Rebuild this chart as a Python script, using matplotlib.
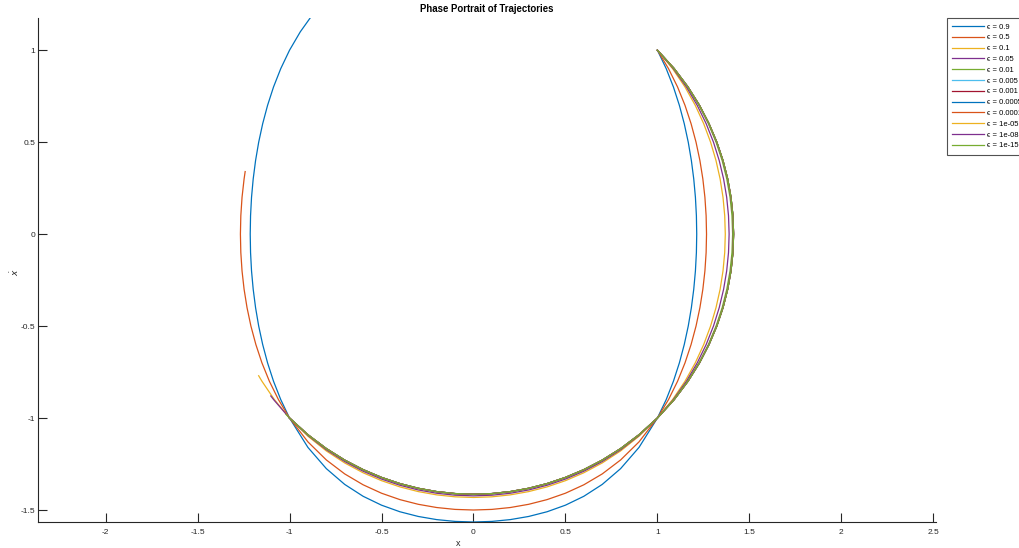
import matplotlib
matplotlib.use("Agg")
import matplotlib.pyplot as plt

plt.rcParams['font.family'] = ['Liberation Sans', 'DejaVu Sans']

# ---- data (phase-plane trajectories, x vs x-dot) ----
labels = ['ϵ = 0.9', 'ϵ = 0.5', 'ϵ = 0.1', 'ϵ = 0.05', 'ϵ = 0.01', 'ϵ = 0.005',
          'ϵ = 0.001', 'ϵ = 0.0005', 'ϵ = 0.0001', 'ϵ = 1e-05', 'ϵ = 1e-08', 'ϵ = 1e-15']

x_09 = [1.0, 1.0477, 1.0871, 1.1195, 1.1461, 1.1677, 1.1847, 1.1976, 1.2067, 1.2120,
        1.2138, 1.2120, 1.2067, 1.1976, 1.1847, 1.1677, 1.1461, 1.1195, 1.0871, 1.0477,
        1.0, 0.9, 0.8, 0.7, 0.6, 0.5, 0.4, 0.3, 0.2, 0.1, 0.0,
        -0.1, -0.2, -0.3, -0.4, -0.5, -0.6, -0.7, -0.8, -0.9, -1.0,
        -1.0477, -1.0871, -1.1195, -1.1461, -1.1677, -1.1847, -1.1976, -1.2067, -1.2120,
        -1.2138, -1.2120, -1.2067, -1.1976, -1.1847, -1.1677, -1.1461, -1.1195, -1.0871,
        -1.0477, -1.0, -0.9415, -0.888]
y_09 = [1.0, 0.9, 0.8, 0.7, 0.6, 0.5, 0.4, 0.3, 0.2, 0.1, 0.0,
        -0.1, -0.2, -0.3, -0.4, -0.5, -0.6, -0.7, -0.8, -0.9, -1.0,
        -1.1597, -1.2750, -1.3609, -1.4254, -1.4737, -1.5095, -1.5351, -1.5522, -1.5620,
        -1.5652, -1.5620, -1.5522, -1.5351, -1.5095, -1.4737, -1.4254, -1.3609, -1.2750,
        -1.1597,
        -1.0, -0.9, -0.8, -0.7, -0.6, -0.5, -0.4, -0.3, -0.2, -0.1, 0.0,
        0.1, 0.2, 0.3, 0.4, 0.5, 0.6, 0.7, 0.8, 0.9, 1.0, 1.1, 1.175]

x_05 = [1.0, 1.0602, 1.1096, 1.1501, 1.1832, 1.2100, 1.2311, 1.2471, 1.2583, 1.2649,
        1.2671, 1.2649, 1.2583, 1.2471, 1.2311, 1.2100, 1.1832, 1.1501, 1.1096, 1.0602,
        1.0, 0.9, 0.8, 0.7, 0.6, 0.5, 0.4, 0.3, 0.2, 0.1, 0.0,
        -0.1, -0.2, -0.3, -0.4, -0.5, -0.6, -0.7, -0.8, -0.9, -1.0,
        -1.0602, -1.1096, -1.1501, -1.1832, -1.2100, -1.2311, -1.2471, -1.2583, -1.2649,
        -1.2671, -1.2649, -1.2583, -1.2471, -1.2413]
y_05 = [1.0, 0.9, 0.8, 0.7, 0.6, 0.5, 0.4, 0.3, 0.2, 0.1, 0.0,
        -0.1, -0.2, -0.3, -0.4, -0.5, -0.6, -0.7, -0.8, -0.9, -1.0,
        -1.1296, -1.2278, -1.3038, -1.3629, -1.4087, -1.4435, -1.4690, -1.4865, -1.4967,
        -1.5, -1.4967, -1.4865, -1.4690, -1.4435, -1.4087, -1.3629, -1.3038, -1.2278,
        -1.1296,
        -1.0, -0.9, -0.8, -0.7, -0.6, -0.5, -0.4, -0.3, -0.2, -0.1, 0.0,
        0.1, 0.2, 0.3, 0.34]

x_01 = [1.0, 1.0823, 1.1500, 1.2060, 1.2519, 1.2891, 1.3186, 1.3410, 1.3567, 1.3660,
        1.3691, 1.3660, 1.3567, 1.3410, 1.3186, 1.2891, 1.2519, 1.2060, 1.1500, 1.0823,
        1.0, 0.9, 0.8, 0.7, 0.6, 0.5, 0.4, 0.3, 0.2, 0.1, 0.0,
        -0.1, -0.2, -0.3, -0.4, -0.5, -0.6, -0.7, -0.8, -0.9, -1.0,
        -1.0823, -1.1500, -1.1679]
y_01 = [1.0, 0.9, 0.8, 0.7, 0.6, 0.5, 0.4, 0.3, 0.2, 0.1, 0.0,
        -0.1, -0.2, -0.3, -0.4, -0.5, -0.6, -0.7, -0.8, -0.9, -1.0,
        -1.0987, -1.1788, -1.2442, -1.2975, -1.3405, -1.3743, -1.3999, -1.4177, -1.4283,
        -1.4318, -1.4283, -1.4177, -1.3999, -1.3743, -1.3405, -1.2975, -1.2442, -1.1788,
        -1.0987,
        -1.0, -0.9, -0.8, -0.77]

x_005 = [1.0, 1.0864, 1.1577, 1.2166, 1.2653, 1.3048, 1.3361, 1.3599, 1.3767, 1.3866,
         1.3899, 1.3866, 1.3767, 1.3599, 1.3361, 1.3048, 1.2653, 1.2166, 1.1577, 1.0864,
         1.0, 0.9, 0.8, 0.7, 0.6, 0.5, 0.4, 0.3, 0.2, 0.1, 0.0,
         -0.1, -0.2, -0.3, -0.4, -0.5, -0.6, -0.7, -0.8, -0.9, -1.0,
         -1.0864, -1.1019]
y_005 = [1.0, 0.9, 0.8, 0.7, 0.6, 0.5, 0.4, 0.3, 0.2, 0.1, 0.0,
         -0.1, -0.2, -0.3, -0.4, -0.5, -0.6, -0.7, -0.8, -0.9, -1.0,
         -1.0948, -1.1725, -1.2365, -1.2891, -1.3317, -1.3654, -1.3910, -1.4089, -1.4195,
         -1.4230, -1.4195, -1.4089, -1.3910, -1.3654, -1.3317, -1.2891, -1.2365, -1.1725,
         -1.0948,
         -1.0, -0.9, -0.88]

x_001 = [1.0, 1.0899, 1.1643, 1.2262, 1.2773, 1.3189, 1.3520, 1.3772, 1.3949, 1.4054,
         1.4089, 1.4054, 1.3949, 1.3772, 1.3520, 1.3189, 1.2773, 1.2262, 1.1643, 1.0899,
         1.0, 0.9, 0.8, 0.7, 0.6, 0.5, 0.4, 0.3, 0.2, 0.1, 0.0,
         -0.1, -0.2, -0.3, -0.4, -0.5, -0.6, -0.7, -0.8, -0.9, -1.0,
         -1.0194]
y_001 = [1.0, 0.9, 0.8, 0.7, 0.6, 0.5, 0.4, 0.3, 0.2, 0.1, 0.0,
         -0.1, -0.2, -0.3, -0.4, -0.5, -0.6, -0.7, -0.8, -0.9, -1.0,
         -1.0917, -1.1675, -1.2304, -1.2824, -1.3247, -1.3583, -1.3838, -1.4018, -1.4124,
         -1.4160, -1.4124, -1.4018, -1.3838, -1.3583, -1.3247, -1.2824, -1.2304, -1.1675,
         -1.0917,
         -1.0, -0.98]

# the curves for eps <= 0.005 lie on top of each other in the picture
x_small = [1.0, 1.0909, 1.1662, 1.2288, 1.2806, 1.3229, 1.3565, 1.3820, 1.4000, 1.4107,
           1.4142, 1.4107, 1.4000, 1.3820, 1.3565, 1.3229, 1.2806, 1.2288, 1.1662, 1.0909,
           1.0, 0.9, 0.8, 0.7, 0.6, 0.5, 0.4, 0.3, 0.2, 0.1, 0.0,
           -0.1, -0.2, -0.3, -0.4, -0.5, -0.6, -0.7, -0.8, -0.9, -1.0]
y_small = [1.0, 0.9, 0.8, 0.7, 0.6, 0.5, 0.4, 0.3, 0.2, 0.1, 0.0,
           -0.1, -0.2, -0.3, -0.4, -0.5, -0.6, -0.7, -0.8, -0.9, -1.0,
           -1.0909, -1.1662, -1.2288, -1.2806, -1.3229, -1.3565, -1.3820, -1.4000, -1.4107,
           -1.4142, -1.4107, -1.4000, -1.3820, -1.3565, -1.3229, -1.2806, -1.2288, -1.1662,
           -1.0909,
           -1.0]

series_x = [x_09, x_05, x_01, x_005, x_001] + [x_small] * 7
series_y = [y_09, y_05, y_01, y_005, y_001] + [y_small] * 7

x_ticks = [-2, -1.5, -1, -0.5, 0, 0.5, 1, 1.5, 2, 2.5]
x_ticklabels = ['-2', '-1.5', '-1', '-0.5', '0', '0.5', '1', '1.5', '2', '2.5']
y_ticks = [-1.5, -1, -0.5, 0, 0.5, 1]
y_ticklabels = ['-1.5', '-1', '-0.5', '0', '0.5', '1']

colors = ['#0072BD', '#D95319', '#EDB120', '#7E2F8E', '#77AC30', '#4DBEEE', '#A2142F',
          '#0072BD', '#D95319', '#EDB120', '#7E2F8E', '#77AC30']

# ---- figure ----
W, H = 1020, 548
fig = plt.figure(figsize=(W / 100, H / 100), dpi=100)
ax = fig.add_axes([38 / W, 1 - 522 / H, (936 - 38) / W, (522 - 18) / H])

for xs, ys, c, lab in zip(series_x, series_y, colors, labels):
    ax.plot(xs, ys, color=c, lw=0.9, label=lab)

ax.set_xlim(-2.3676, 2.5147)
ax.set_ylim(-1.5652, 1.175)
ax.set_xticks(x_ticks)
ax.set_xticklabels(x_ticklabels)
ax.set_yticks(y_ticks)
ax.set_yticklabels(y_ticklabels)

for s in ['top', 'right']:
    ax.spines[s].set_visible(False)
for s in ['left', 'bottom']:
    ax.spines[s].set_color('#262626')
    ax.spines[s].set_linewidth(0.8)
ax.tick_params(direction='in', length=6.5, width=0.8, color='#262626',
               labelsize=6, labelcolor='#262626')
ax.tick_params(axis='x', pad=5)
ax.tick_params(axis='y', pad=1.8)

ax.set_title('Phase Portrait of Trajectories', fontsize=6.9, fontweight='bold',
             color='black', pad=4)
ax.set_xlabel('x', fontsize=6.5, color='#262626')
ax.xaxis.set_label_coords(0.4677, -0.034)
ax.set_ylabel(r'$\dot{x}$', fontsize=6.5, color='#262626')
ax.yaxis.set_label_coords(-0.019, 0.496)

leg = ax.legend(loc='upper left', bbox_to_anchor=(947 / W, 1 - 18 / H),
                bbox_transform=fig.transFigure, fontsize=5.5, frameon=True,
                fancybox=False, edgecolor='#262626', borderaxespad=0,
                handlelength=4.2, handletextpad=0.4, labelspacing=0.45,
                borderpad=0.7)
leg.get_frame().set_linewidth(0.8)

fig.savefig('out.png', dpi=100)
